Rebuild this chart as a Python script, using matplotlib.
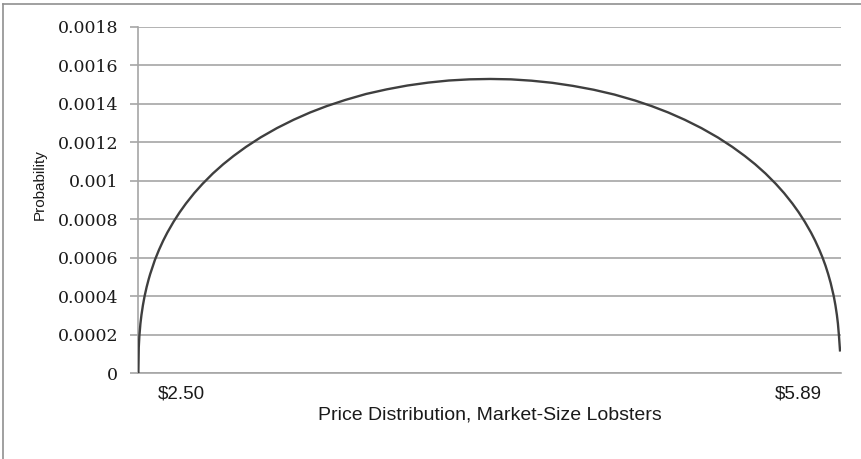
import matplotlib.pyplot as plt
from matplotlib.lines import Line2D

# prices (x) and probability values
price = [2.500, 2.502, 2.505, 2.510, 2.515, 2.522, 2.530, 2.540, 2.550, 2.557,
         2.580, 2.600, 2.620, 2.640, 2.670, 2.700, 2.730, 2.770, 2.810, 2.860,
         2.910, 2.960, 3.020, 3.090, 3.170, 3.250, 3.330, 3.410, 3.500, 3.600,
         3.700, 3.800, 3.900, 4.000, 4.100, 4.200, 4.300, 4.400, 4.500, 4.600,
         4.700, 4.800, 4.900, 4.980, 5.060, 5.140, 5.220, 5.300, 5.370, 5.430,
         5.480, 5.530, 5.580, 5.620, 5.660, 5.690, 5.720, 5.750, 5.770, 5.790,
         5.805, 5.820, 5.833, 5.845, 5.860, 5.868, 5.875, 5.880, 5.885, 5.890]
prob = [0.0, 0.000136, 0.000196, 0.000259, 0.000304, 0.000354, 0.000401, 0.000449,
        0.000490, 0.000516, 0.000590, 0.000643, 0.000690, 0.000732, 0.000788,
        0.000838, 0.000883, 0.000937, 0.000985, 0.001039, 0.001087, 0.001130,
        0.001177, 0.001226, 0.001275, 0.001318, 0.001356, 0.001389, 0.001421,
        0.001452, 0.001476, 0.001496, 0.001511, 0.001522, 0.001528, 0.001530,
        0.001528, 0.001521, 0.001510, 0.001494, 0.001474, 0.001449, 0.001418,
        0.001389, 0.001356, 0.001318, 0.001275, 0.001226, 0.001177, 0.001130,
        0.001087, 0.001039, 0.000985, 0.000937, 0.000883, 0.000838, 0.000788,
        0.000732, 0.000690, 0.000643, 0.000604, 0.000560, 0.000516, 0.000470,
        0.000401, 0.000354, 0.000304, 0.000259, 0.000196, 0.000120]

yticks = [0, 0.0002, 0.0004, 0.0006, 0.0008, 0.001, 0.0012, 0.0014, 0.0016, 0.0018]
ytick_labels = ["0", "0.0002", "0.0004", "0.0006", "0.0008", "0.001",
                "0.0012", "0.0014", "0.0016", "0.0018"]
end_labels = ["$2.50", "$5.89"]

fig = plt.figure(figsize=(8.62, 4.59), dpi=100)
ax = fig.add_axes([0.1605, 0.1863, 0.8151, 0.7549])

grid_col = "#a6a6a6"
ax.plot(price, prob, color="#3f3f3f", lw=1.7, solid_joinstyle="round", zorder=3)

ax.set_xlim(2.50, 5.8947)
ax.set_ylim(0, 0.0018)
ax.set_yticks(yticks)
ax.set_yticklabels(ytick_labels, family="DejaVu Serif", fontsize=12.5, color="#1a1a1a")
ax.set_xticks([])

ax.grid(axis="y", color=grid_col, lw=1.2)
ax.set_axisbelow(True)
for s in ["top", "right"]:
    ax.spines[s].set_visible(False)
ax.spines["left"].set_color(grid_col)
ax.spines["left"].set_linewidth(1.2)
ax.spines["bottom"].set_color(grid_col)
ax.spines["bottom"].set_linewidth(1.2)
ax.tick_params(axis="y", length=5.5, width=1.2, color=grid_col, pad=9)

# category end labels
ax.text(0.0613, -0.035, end_labels[0], transform=ax.transAxes, ha="center", va="top",
        family="Liberation Sans", fontsize=13.5, color="#1a1a1a")
ax.text(0.939, -0.035, end_labels[1], transform=ax.transAxes, ha="center", va="top",
        family="Liberation Sans", fontsize=13.5, color="#1a1a1a")

fig.text(490 / 862, 1 - 415 / 459, "Price Distribution, Market-Size Lobsters",
         ha="center", va="center", family="Liberation Sans", fontsize=14, color="#1a1a1a")
fig.text(40 / 862, 1 - 185 / 459, "Probability", rotation=90, ha="center", va="center",
         family="Liberation Sans", fontsize=11, color="#1a1a1a")

# chart-area border (top and left visible)
fig.add_artist(Line2D([3.5 / 862, 3.5 / 862], [0, 1 - 3.5 / 459], transform=fig.transFigure,
                      color="#909090", lw=1.2))
fig.add_artist(Line2D([3.5 / 862, 1], [1 - 3.5 / 459, 1 - 3.5 / 459], transform=fig.transFigure,
                      color="#909090", lw=1.2))

fig.savefig("out.png", dpi=100)
